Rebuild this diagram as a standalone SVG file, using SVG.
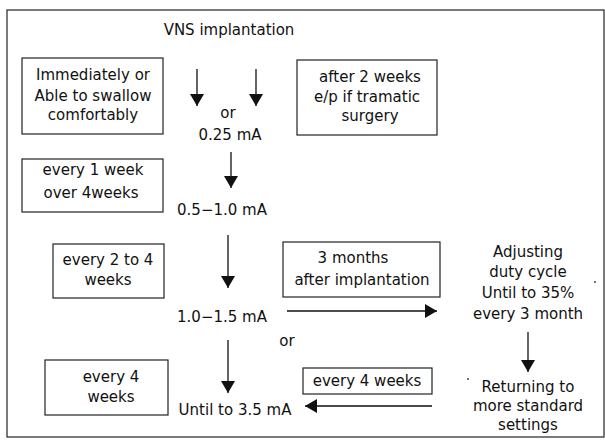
<svg xmlns="http://www.w3.org/2000/svg" width="605" height="446" viewBox="0 0 605 446">
<defs>
<marker id="ah" markerWidth="12" markerHeight="14" refX="12" refY="7" orient="auto" markerUnits="userSpaceOnUse">
<path d="M0,0 L12,7 L0,14 Z" fill="#111"/>
</marker>
<style>
text{font-family:"DejaVu Sans","Liberation Sans",sans-serif;font-size:15px;fill:#111;text-anchor:middle}
.box{fill:#fff;stroke:#222;stroke-width:1.2}
.c{stroke:#111;stroke-width:1.3;fill:none;marker-end:url(#ah)}
</style>
</defs>
<rect width="605" height="446" fill="#fff"/>
<rect x="7" y="10" width="597" height="427" fill="none" stroke="#222" stroke-width="1.2"/>
<g id="title"><text x="229" y="35">VNS implantation</text></g>
<g id="n-immediate"><rect class="box" x="22" y="58" width="141" height="76"/><text x="93" y="80">Immediately or</text><text x="93" y="101">Able to swallow</text><text x="93" y="120">comfortably</text></g>
<g id="n-after2"><rect class="box" x="297" y="60" width="140" height="75"/><text x="370" y="82">after 2 weeks</text><text x="367" y="102">e/p if tramatic</text><text x="370" y="121">surgery</text></g>
<g id="n-025"><text x="228" y="118">or</text><text x="230" y="140">0.25 mA</text></g>
<g id="n-week1"><rect class="box" x="22" y="159" width="141" height="53"/><text x="93" y="175">every 1 week</text><text x="91" y="198">over 4weeks</text></g>
<g id="n-05"><text x="222" y="215">0.5−1.0 mA</text></g>
<g id="n-week24"><rect class="box" x="53" y="244" width="111" height="54"/><text x="108" y="265">every 2 to 4</text><text x="108" y="285">weeks</text></g>
<g id="n-10"><text x="222" y="322">1.0−1.5 mA</text></g>
<g id="n-or"><text x="287" y="346">or</text></g>
<g id="n-3months"><rect class="box" x="283" y="242" width="157" height="55"/><text x="353" y="263">3 months</text><text x="362" y="285">after implantation</text></g>
<g id="n-adjust"><text x="528" y="257">Adjusting</text><text x="528" y="277">duty cycle</text><text x="528" y="298">Until to 35%</text><text x="528" y="319">every 3 month</text></g>
<g id="n-week4"><rect class="box" x="45" y="360" width="123" height="55"/><text x="111" y="382">every 4</text><text x="111" y="402">weeks</text></g>
<g id="n-35"><text x="235" y="415">Until to 3.5 mA</text></g>
<g id="n-every4w"><rect class="box" x="303" y="368" width="129" height="26"/><text x="367" y="386">every 4 weeks</text></g>
<g id="n-return"><text x="528" y="392">Returning to</text><text x="528" y="411">more standard</text><text x="528" y="430">settings</text></g>
<g id="connectors">
<line class="c" x1="197" y1="69" x2="197" y2="106"/>
<line class="c" x1="256" y1="69" x2="256" y2="106"/>
<line class="c" x1="231" y1="152" x2="231" y2="188"/>
<line class="c" x1="228" y1="235" x2="228" y2="288"/>
<line class="c" x1="228" y1="340" x2="228" y2="393"/>
<line class="c" x1="287" y1="311" x2="437" y2="311"/>
<line class="c" x1="528" y1="332" x2="528" y2="372"/>
<line class="c" x1="432" y1="406" x2="305" y2="406"/>
</g>
<circle cx="595" cy="282" r="0.9" fill="#333"/>
<circle cx="468" cy="379" r="0.9" fill="#333"/>
</svg>
